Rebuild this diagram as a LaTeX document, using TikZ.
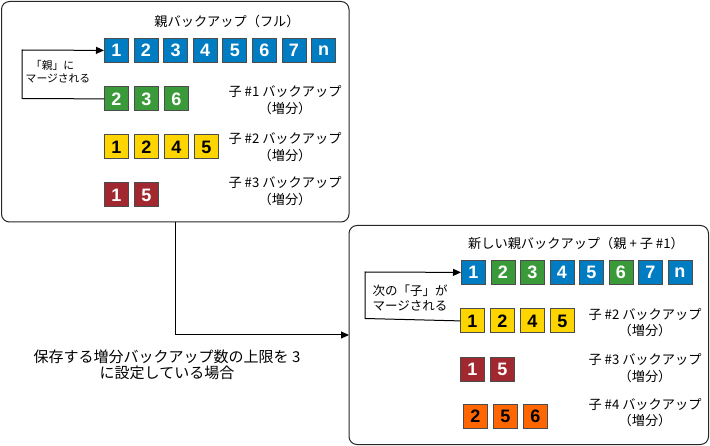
\documentclass[tikz,border=0pt]{standalone}
\usepackage{fontspec}
\setmainfont{Liberation Sans}
\newfontfamily\jp{Noto Sans CJK JP}
\usetikzlibrary{arrows.meta}
\definecolor{cblue}{HTML}{007CC3}
\definecolor{cgreen}{HTML}{3A9A3A}
\definecolor{cyellow}{HTML}{FFD500}
\definecolor{cred}{HTML}{A1282F}
\definecolor{corange}{HTML}{FF6600}
\tikzset{
  sq/.style={draw=black!70, line width=0.8pt, minimum width=24pt, minimum height=24pt, inner sep=0pt,
    font=\fontsize{18}{18}\selectfont\bfseries, anchor=north west},
  bsq/.style={sq, fill=cblue, text=white},
  gsq/.style={sq, fill=cgreen, text=white},
  ysq/.style={sq, fill=cyellow, text=black},
  rsq/.style={sq, fill=cred, text=white},
  osq/.style={sq, fill=corange, text=black},
  frame/.style={draw=black!85, line width=1pt, rounded corners=8pt},
  lbl/.style={font=\jp\fontsize{13.2}{16.5}\selectfont, inner sep=0pt, align=center},
  conn/.style={draw=black, line width=1pt, -{Triangle[length=8pt,width=7pt]}},
}
\begin{document}
\begin{tikzpicture}[x=1pt,y=-1pt]
\useasboundingbox (0,0) rectangle (710,446);
% frames
\draw[frame] (1.5,1.5) rectangle (349,222);
\draw[frame] (349,225.5) rectangle (708.5,444.5);
\node[lbl] (t1) at (227,21) {親バックアップ（フル）};
% parent row
\foreach \i/\t in {1/1,2/2,3/3,4/4,5/5,6/6,7/7,8/n} {
  \node[bsq] (p\i) at ({104+(\i-1)*29.6},38) {\t};
}
\foreach \i/\t in {1/2,2/3,3/6} {
  \node[gsq] (c1\i) at ({104+(\i-1)*30},86.5) {\t};
}
\foreach \i/\t in {1/1,2/2,3/4,4/5} {
  \node[ysq] (c2\i) at ({104+(\i-1)*30},134.5) {\t};
}
\foreach \i/\t in {1/1,2/5} {
  \node[rsq] (c3\i) at ({104+(\i-1)*30},182.5) {\t};
}
\node[lbl] (l1) at (285,100) {子 \#1 バックアップ\\（増分）};
\node[lbl] (l2) at (285,147) {子 \#2 バックアップ\\（増分）};
\node[lbl] (l3) at (285,191) {子 \#3 バックアップ\\（増分）};
\coordinate (m1a) at (22,98.5);
\coordinate (m1b) at (22,50);
\draw[conn] (c11.west) -- (m1a) -- (m1b) -- (p1.west);
\node[lbl, font=\jp\fontsize{10.8}{13.5}\selectfont] (mt1) at (58,71.5) {「親」に\phantom{る}\\マージされる};
% connector between frames
\coordinate (k1) at (175,222);
\coordinate (k2) at (175,335);
\coordinate (k3) at (349,335);
\draw[conn] (k1) -- (k2) -- (k3);
\node[lbl, font=\jp\fontsize{15}{16.5}\selectfont] (note) at (167,365) {保存する増分バックアップ数の上限を 3\\に設定している場合};
% second frame
\node[lbl] (t2) at (576,243) {新しい親バックアップ（親 + 子 \#1）};
\foreach \i/\t/\s in {1/1/bsq,2/2/gsq,3/3/gsq,4/4/bsq,5/5/bsq,6/6/gsq,7/7/bsq,8/n/bsq} {
  \node[\s] (q\i) at ({461+(\i-1)*29.5},260) {\t};
}
\foreach \i/\t in {1/1,2/2,3/4,4/5} {
  \node[ysq] (d2\i) at ({460+(\i-1)*30},308.5) {\t};
}
\foreach \i/\t in {1/1,2/5} {
  \node[rsq] (d3\i) at ({460+(\i-1)*30},357) {\t};
}
\foreach \i/\t in {1/2,2/5,3/6} {
  \node[osq] (d4\i) at ({463+(\i-1)*30},404) {\t};
}
\node[lbl] (l4) at (645,322.5) {子 \#2 バックアップ\\（増分）};
\node[lbl] (l5) at (645,368) {子 \#3 バックアップ\\（増分）};
\node[lbl] (l6) at (645,412.5) {子 \#4 バックアップ\\（増分）};
\coordinate (m2a) at (365,318.5);
\coordinate (m2b) at (365,272);
\draw[conn] (d21.west) -- (m2a) -- (m2b) -- (q1.west);
\node[lbl, font=\jp\fontsize{12.5}{15}\selectfont] (mt2) at (410,297.5) {次の「子」が\\マージされる};
\end{tikzpicture}
\end{document}
